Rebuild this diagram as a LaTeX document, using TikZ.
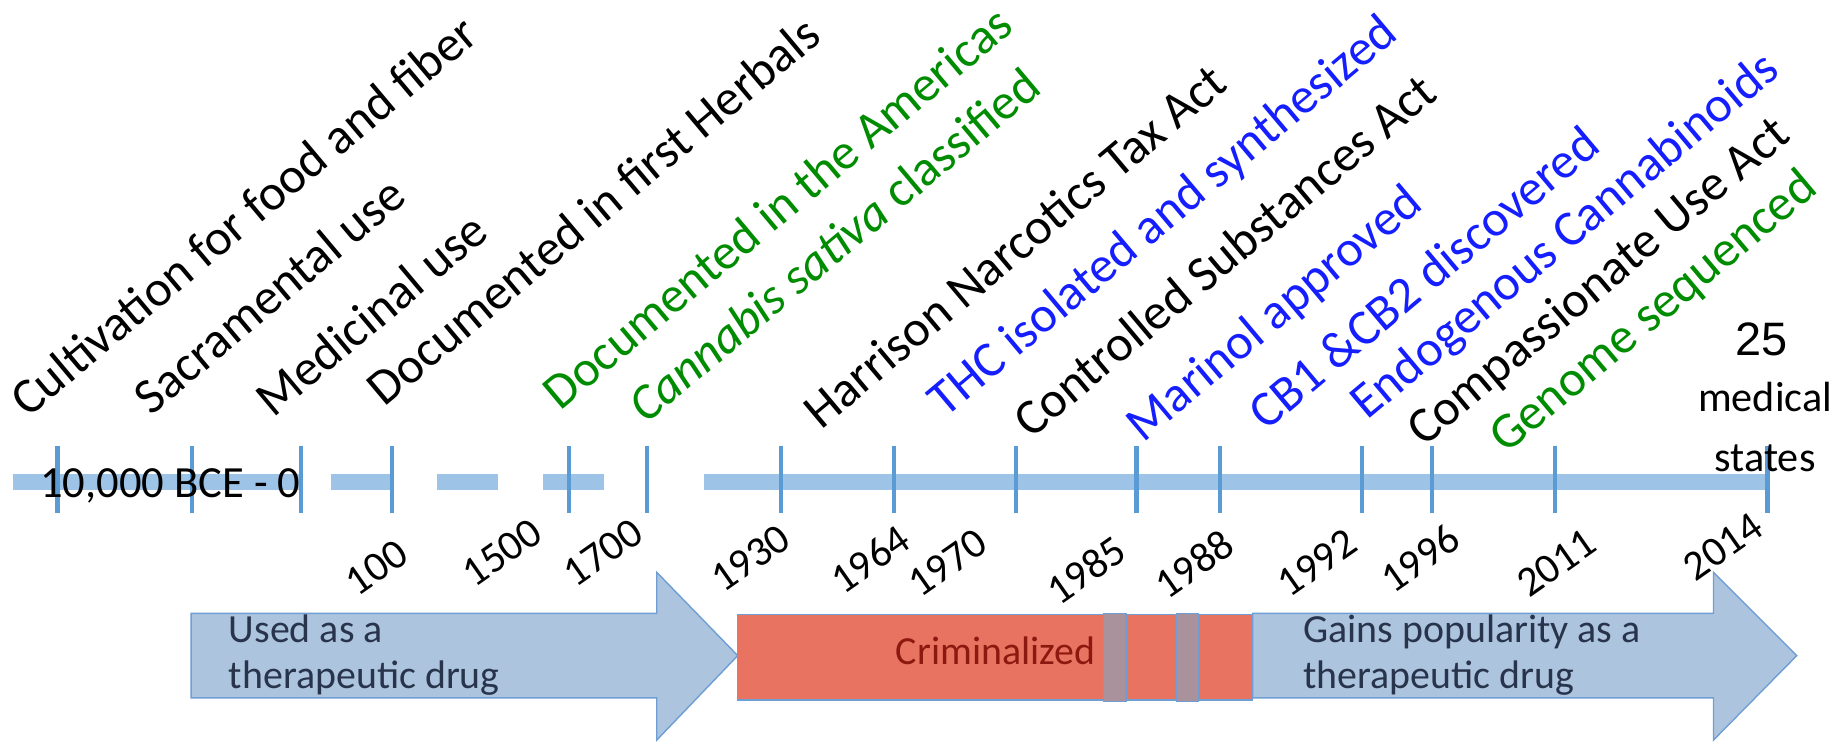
\documentclass[tikz,border=0pt]{standalone}
\usepackage{fontspec}
\setmainfont{Carlito}
\newfontfamily\arialf{Liberation Sans}
\definecolor{barblue}{RGB}{157,195,230}
\definecolor{tickblue}{RGB}{91,155,213}
\definecolor{arrowfill}{RGB}{173,196,222}
\definecolor{arrowline}{RGB}{110,158,212}
\definecolor{crimred}{RGB}{233,115,97}
\definecolor{slotfill}{RGB}{170,146,156}
\definecolor{evgreen}{RGB}{0,140,0}
\definecolor{evblue}{RGB}{20,30,255}
\definecolor{arrowtext}{RGB}{40,52,75}
\definecolor{crimtext}{RGB}{140,25,15}
\begin{document}
\begin{tikzpicture}[x=1pt,y=1pt,
  event/.style={anchor=base west, rotate=40, inner sep=0pt, font=\fontsize{43}{48}\selectfont},
  yearlab/.style={anchor=center, rotate=35, inner sep=0pt, font=\fontsize{36}{40}\selectfont},
  tickmark/.style={draw=tickblue, line width=3.5pt},
  barseg/.style={draw=barblue, line width=14pt},
  bigarrow/.style={fill=arrowfill, draw=arrowline, line width=1.2pt},
  boxtext/.style={inner sep=0pt, text=arrowtext, font=\fontsize{34}{40}\selectfont},
  sidetext/.style={inner sep=0pt, font=\fontsize{36}{40}\selectfont}]
\useasboundingbox (0,0) rectangle (1568,634);

% timeline bar segments
\coordinate (s1a) at (11,223);  \coordinate (s1b) at (255,223);
\coordinate (s2a) at (282,223); \coordinate (s2b) at (335,223);
\coordinate (s3a) at (373,223); \coordinate (s3b) at (425,223);
\coordinate (s4a) at (463,223); \coordinate (s4b) at (515,223);
\coordinate (s5a) at (600,223); \coordinate (s5b) at (1505,223);
\draw[barseg] (s1a) -- (s1b);
\draw[barseg] (s2a) -- (s2b);
\draw[barseg] (s3a) -- (s3b);
\draw[barseg] (s4a) -- (s4b);
\draw[barseg] (s5a) -- (s5b);

% ticks
\foreach \x [count=\i] in {49,164,257,334,485,552,666,762,866,969,1040,1161,1221,1326,1507}{
  \coordinate (t\i a) at (\x,254);
  \coordinate (t\i b) at (\x,197);
  \draw[tickmark] (t\i a) -- (t\i b);
}

\node[sidetext, anchor=base west, font=\fontsize{38}{40}\selectfont] (bce) at (34,210) {10,000 BCE - 0};

% years
\node[yearlab] (y100)  at (321,150) {100};
\node[yearlab] (y1500) at (428,163) {1500};
\node[yearlab] (y1700) at (514,163) {1700};
\node[yearlab] (y1930) at (640,158) {1930};
\node[yearlab] (y1964) at (742,157) {1964};
\node[yearlab] (y1970) at (808,154) {1970};
\node[yearlab] (y1985) at (926,148) {1985};
\node[yearlab] (y1988) at (1018,153) {1988};
\node[yearlab] (y1992) at (1123,154) {1992};
\node[yearlab] (y1996) at (1211,158) {1996};
\node[yearlab] (y2011) at (1327,154) {2011};
\node[yearlab] (y2014) at (1469,168) {2014};

% events
\node[event] (e1)  at (24,277)   {Cultivation for food and fiber};
\node[event] (e2)  at (129,279)  {Sacramental use};
\node[event] (e3)  at (233,277)  {Medicinal use};
\node[event] (e4)  at (328,286)  {Documented in first Herbals};
\node[event, text=evgreen] (e5)  at (478,283)  {Documented in the Americas};
\node[event, text=evgreen] (e6)  at (551,272)  {\textit{Cannabis sativa} classified};
\node[event] (e7)  at (700,267)  {Harrison Narcotics Tax Act};
\node[event, text=evblue] (e8)  at (806,277)  {THC isolated and synthesized};
\node[event] (e9)  at (879,259)  {Controlled Substances Act};
\node[event, text=evblue] (e10) at (975,256)  {Marinol approved};
\node[event, text=evblue] (e11) at (1080,266) {CB1 \&CB2 discovered};
\node[event, text=evblue] (e12) at (1166,275) {Endogenous Cannabinoids};
\node[event] (e13) at (1214,252) {Compassionate Use Act};
\node[event, text=evgreen] (e14) at (1284,246) {Genome sequenced};

% 25 medical states
\node[inner sep=0pt, anchor=base, font=\arialf\fontsize{40}{44}\selectfont] (n25) at (1502,331) {25};
\node[sidetext, anchor=base] (med) at (1505,283) {medical};
\node[sidetext, anchor=base] (sta) at (1505,232) {states};

% bottom arrows
\draw[bigarrow] (163,111) -- (560,111) -- (560,146) -- (629,75) -- (560,3) -- (560,39) -- (163,39) -- cycle;
\draw[fill=crimred, draw=arrowline, line width=1.2pt] (629,37) rectangle (1068,110);
\draw[bigarrow] (1068,111) -- (1461,111) -- (1461,146) -- (1532,75) -- (1461,3) -- (1461,39) -- (1068,39) -- cycle;
\draw[fill=slotfill, draw=arrowline, line width=1.2pt] (941,36) rectangle (960,111);
\draw[fill=slotfill, draw=arrowline, line width=1.2pt] (1003,36) rectangle (1022,111);

\node[boxtext, anchor=base west] (u1) at (195,86) {Used as a};
\node[boxtext, anchor=base west] (u2) at (195,47) {therapeutic drug};
\node[boxtext, anchor=base east, text=crimtext] (cr) at (934,67) {Criminalized};
\node[boxtext, anchor=base west] (g1) at (1111,86) {Gains popularity as a};
\node[boxtext, anchor=base west] (g2) at (1111,47) {therapeutic drug};
\end{tikzpicture}
\end{document}
